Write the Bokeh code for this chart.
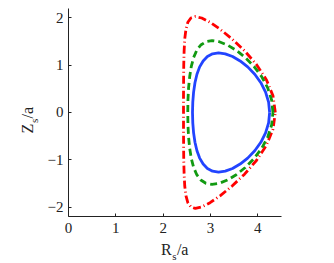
from bokeh.plotting import figure
from bokeh.models import Range1d, FixedTicker, Label
from bokeh.embed import file_html
from bokeh.resources import INLINE

# Flux-surface contours (theta = 0..360 deg, 10 deg steps)
blue_R = [4.250, 4.228, 4.164, 4.064, 3.935, 3.786, 3.626, 3.466, 3.312, 3.170,
          3.044, 2.935, 2.845, 2.771, 2.714, 2.672, 2.643, 2.626, 2.620,
          2.626, 2.643, 2.672, 2.714, 2.771, 2.845, 2.935, 3.044, 3.170,
          3.312, 3.466, 3.626, 3.786, 3.935, 4.064, 4.164, 4.228, 4.250]
blue_Z = [0.000, 0.219, 0.431, 0.630, 0.810, 0.965, 1.091, 1.184, 1.241, 1.260,
          1.241, 1.184, 1.091, 0.965, 0.810, 0.630, 0.431, 0.219, 0.000,
          -0.219, -0.431, -0.630, -0.810, -0.965, -1.091, -1.184, -1.241, -1.260,
          -1.241, -1.184, -1.091, -0.965, -0.810, -0.630, -0.431, -0.219, 0.000]

green_R = [4.320, 4.292, 4.209, 4.081, 3.918, 3.735, 3.544, 3.358, 3.185, 3.033,
           2.902, 2.795, 2.710, 2.644, 2.595, 2.561, 2.537, 2.524, 2.520,
           2.524, 2.537, 2.561, 2.595, 2.644, 2.710, 2.795, 2.902, 3.033,
           3.185, 3.358, 3.544, 3.735, 3.918, 4.081, 4.209, 4.292, 4.320]
green_Z = [0.000, 0.264, 0.520, 0.760, 0.977, 1.164, 1.316, 1.428, 1.497, 1.520,
           1.497, 1.428, 1.316, 1.164, 0.977, 0.760, 0.520, 0.264, 0.000,
           -0.264, -0.520, -0.760, -0.977, -1.164, -1.316, -1.428, -1.497, -1.520,
           -1.497, -1.428, -1.316, -1.164, -0.977, -0.760, -0.520, -0.264, 0.000]

red_R = [4.370, 4.321, 4.181, 3.971, 3.720, 3.457, 3.208, 2.991, 2.815, 2.681,
         2.586, 2.521, 2.481, 2.456, 2.443, 2.435, 2.432, 2.430, 2.430,
         2.430, 2.432, 2.435, 2.443, 2.456, 2.481, 2.521, 2.586, 2.681,
         2.815, 2.991, 3.208, 3.457, 3.720, 3.971, 4.181, 4.321, 4.370]
red_Z = [0.000, 0.352, 0.694, 1.015, 1.305, 1.555, 1.758, 1.908, 1.999, 2.030,
         1.999, 1.908, 1.758, 1.555, 1.305, 1.015, 0.694, 0.352, 0.000,
         -0.352, -0.694, -1.015, -1.305, -1.555, -1.758, -1.908, -1.999, -2.030,
         -1.999, -1.908, -1.758, -1.555, -1.305, -1.015, -0.694, -0.352, 0.000]

x_ticks = [0, 1, 2, 3, 4]
y_ticks = [-2, -1, 0, 1, 2]
y_tick_labels = {-2: "\u22122", -1: "\u22121", 0: "0", 1: "1", 2: "2"}
x_limits = (0, 4.5)
y_limits = (-2.2, 2.2)

FONT = "Liberation Serif"

# The frame spans the whole canvas; the visible axes sit at fixed locations
# so that the composite axis titles (with subscripts) are not clipped.
p = figure(output_backend="svg", toolbar_location=None,
           width=300, height=263, min_border=0,
           x_range=Range1d(-1.4367, 4.9018), y_range=Range1d(-3.1946, 2.3692))
p.outline_line_color = None
p.grid.visible = False
p.background_fill_color = "white"
p.border_fill_color = "white"

for ax in (p.xaxis[0], p.yaxis[0]):
    ax.major_tick_in = 3
    ax.major_tick_out = 0
    ax.minor_tick_in = 0
    ax.minor_tick_out = 0
    ax.axis_line_color = "#222222"
    ax.major_tick_line_color = "#222222"
    ax.major_label_text_font = FONT
    ax.major_label_text_font_size = "15px"
    ax.major_label_text_color = "#222222"
p.xaxis[0].ticker = FixedTicker(ticks=x_ticks)
p.yaxis[0].ticker = FixedTicker(ticks=y_ticks)
p.yaxis[0].major_label_overrides = y_tick_labels
p.xaxis[0].fixed_location = y_limits[0]
p.xaxis[0].bounds = x_limits
p.yaxis[0].fixed_location = x_limits[0]
p.yaxis[0].bounds = y_limits
p.xaxis[0].major_label_standoff = 7
p.yaxis[0].major_label_standoff = 5

p.line(red_R, red_Z, line_color="#ff0000", line_width=2.8, line_dash="8 3 1 3")
p.line(green_R, green_Z, line_color="#129a12", line_width=2.8, line_dash="7 4")
p.line(blue_R, blue_Z, line_color="#2244ff", line_width=2.8)

# axis titles: R_s/a and Z_s/a
lab = dict(text_font=FONT, text_color="#222222", text_align="left",
           text_baseline="alphabetic")
p.add_layout(Label(x=1.956, y=-2.893, text="R", text_font_size="16px", **lab))
p.add_layout(Label(x=2.19, y=-3.04, text="s", text_font_size="11px", **lab))
p.add_layout(Label(x=2.29, y=-2.893, text="/a", text_font_size="16px", **lab))

p.add_layout(Label(x=-0.874, y=-0.443, text="Z", angle=1.5708, text_font_size="16px", **lab))
p.add_layout(Label(x=-0.737, y=-0.222, text="s", angle=1.5708, text_font_size="11px", **lab))
p.add_layout(Label(x=-0.874, y=-0.127, text="/a", angle=1.5708, text_font_size="16px", **lab))

open("out.html", "w").write(file_html(p, INLINE))
